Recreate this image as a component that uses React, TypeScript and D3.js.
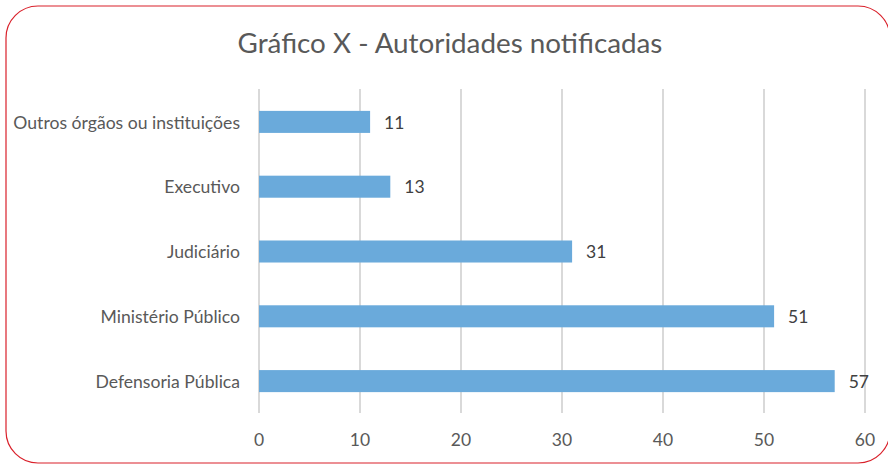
import * as d3 from "d3";
import React, { useEffect, useRef } from "react";

const categories = [
  "Outros órgãos ou instituições",
  "Executivo",
  "Judiciário",
  "Ministério Público",
  "Defensoria Pública",
];
const values = [11, 13, 31, 51, 57];
const xTicks = [0, 10, 20, 30, 40, 50, 60];
const title = "Gráfico X - Autoridades notificadas";

export default function App() {
  const ref = useRef<SVGSVGElement>(null);

  useEffect(() => {
    const font = "Lato, 'Open Sans', sans-serif";
    const textColor = "#595959";

    const svg = d3.select(ref.current);
    svg.selectAll("*").remove();

    // Marco redondeado rojo.
    svg
      .append("rect")
      .attr("x", 6)
      .attr("y", 6)
      .attr("width", 884)
      .attr("height", 457)
      .attr("rx", 32)
      .attr("fill", "white")
      .attr("stroke", "#d9202a")
      .attr("stroke-width", 1.2);

    svg
      .append("text")
      .attr("x", 450)
      .attr("y", 53)
      .attr("text-anchor", "middle")
      .attr("font-family", font)
      .attr("font-size", 27.8)
      .attr("fill", textColor)
      .text(title);

    const xScale = d3.scaleLinear([0, 60], [259, 865]);
    const yScale = d3.scaleBand(categories, [89, 413]).paddingInner(0.66).paddingOuter(0.33);

    // Líneas de la cuadrícula.
    svg
      .append("g")
      .selectAll("line")
      .data(xTicks)
      .join("line")
      .attr("x1", (d) => xScale(d))
      .attr("x2", (d) => xScale(d))
      .attr("y1", 89)
      .attr("y2", 413)
      .attr("stroke", "#d9d9d9")
      .attr("stroke-width", 2);

    svg
      .append("g")
      .selectAll("rect")
      .data(values)
      .join("rect")
      .attr("x", xScale(0))
      .attr("y", (_, i) => yScale(categories[i])! + 0.5)
      .attr("width", (d) => xScale(d) - xScale(0))
      .attr("height", yScale.bandwidth())
      .attr("fill", "#6aaadb");

    // Etiquetas de valor.
    svg
      .append("g")
      .attr("font-family", font)
      .attr("font-size", 17.5)
      .attr("fill", "#404040")
      .selectAll("text")
      .data(values)
      .join("text")
      .attr("x", (d) => xScale(d) + 14)
      .attr("y", (_, i) => yScale(categories[i])! + yScale.bandwidth() / 2 + 1)
      .attr("dy", "0.35em")
      .text((d) => d);

    // Categorías.
    svg
      .append("g")
      .attr("font-family", font)
      .attr("font-size", 17.6)
      .attr("fill", textColor)
      .attr("text-anchor", "end")
      .selectAll("text")
      .data(categories)
      .join("text")
      .attr("x", 240)
      .attr("y", (d) => yScale(d)! + yScale.bandwidth() / 2 + 1)
      .attr("dy", "0.35em")
      .text((d) => d);

    // Eje x.
    svg
      .append("g")
      .attr("font-family", font)
      .attr("font-size", 17.5)
      .attr("fill", textColor)
      .attr("text-anchor", "middle")
      .selectAll("text")
      .data(xTicks)
      .join("text")
      .attr("x", (d) => xScale(d))
      .attr("y", 446)
      .text((d) => d);
  }, []);

  return (
    <svg
      ref={ref}
      width={888}
      height={464}
      style={{ position: "absolute", left: 0, top: 0 }}
    ></svg>
  );
}
